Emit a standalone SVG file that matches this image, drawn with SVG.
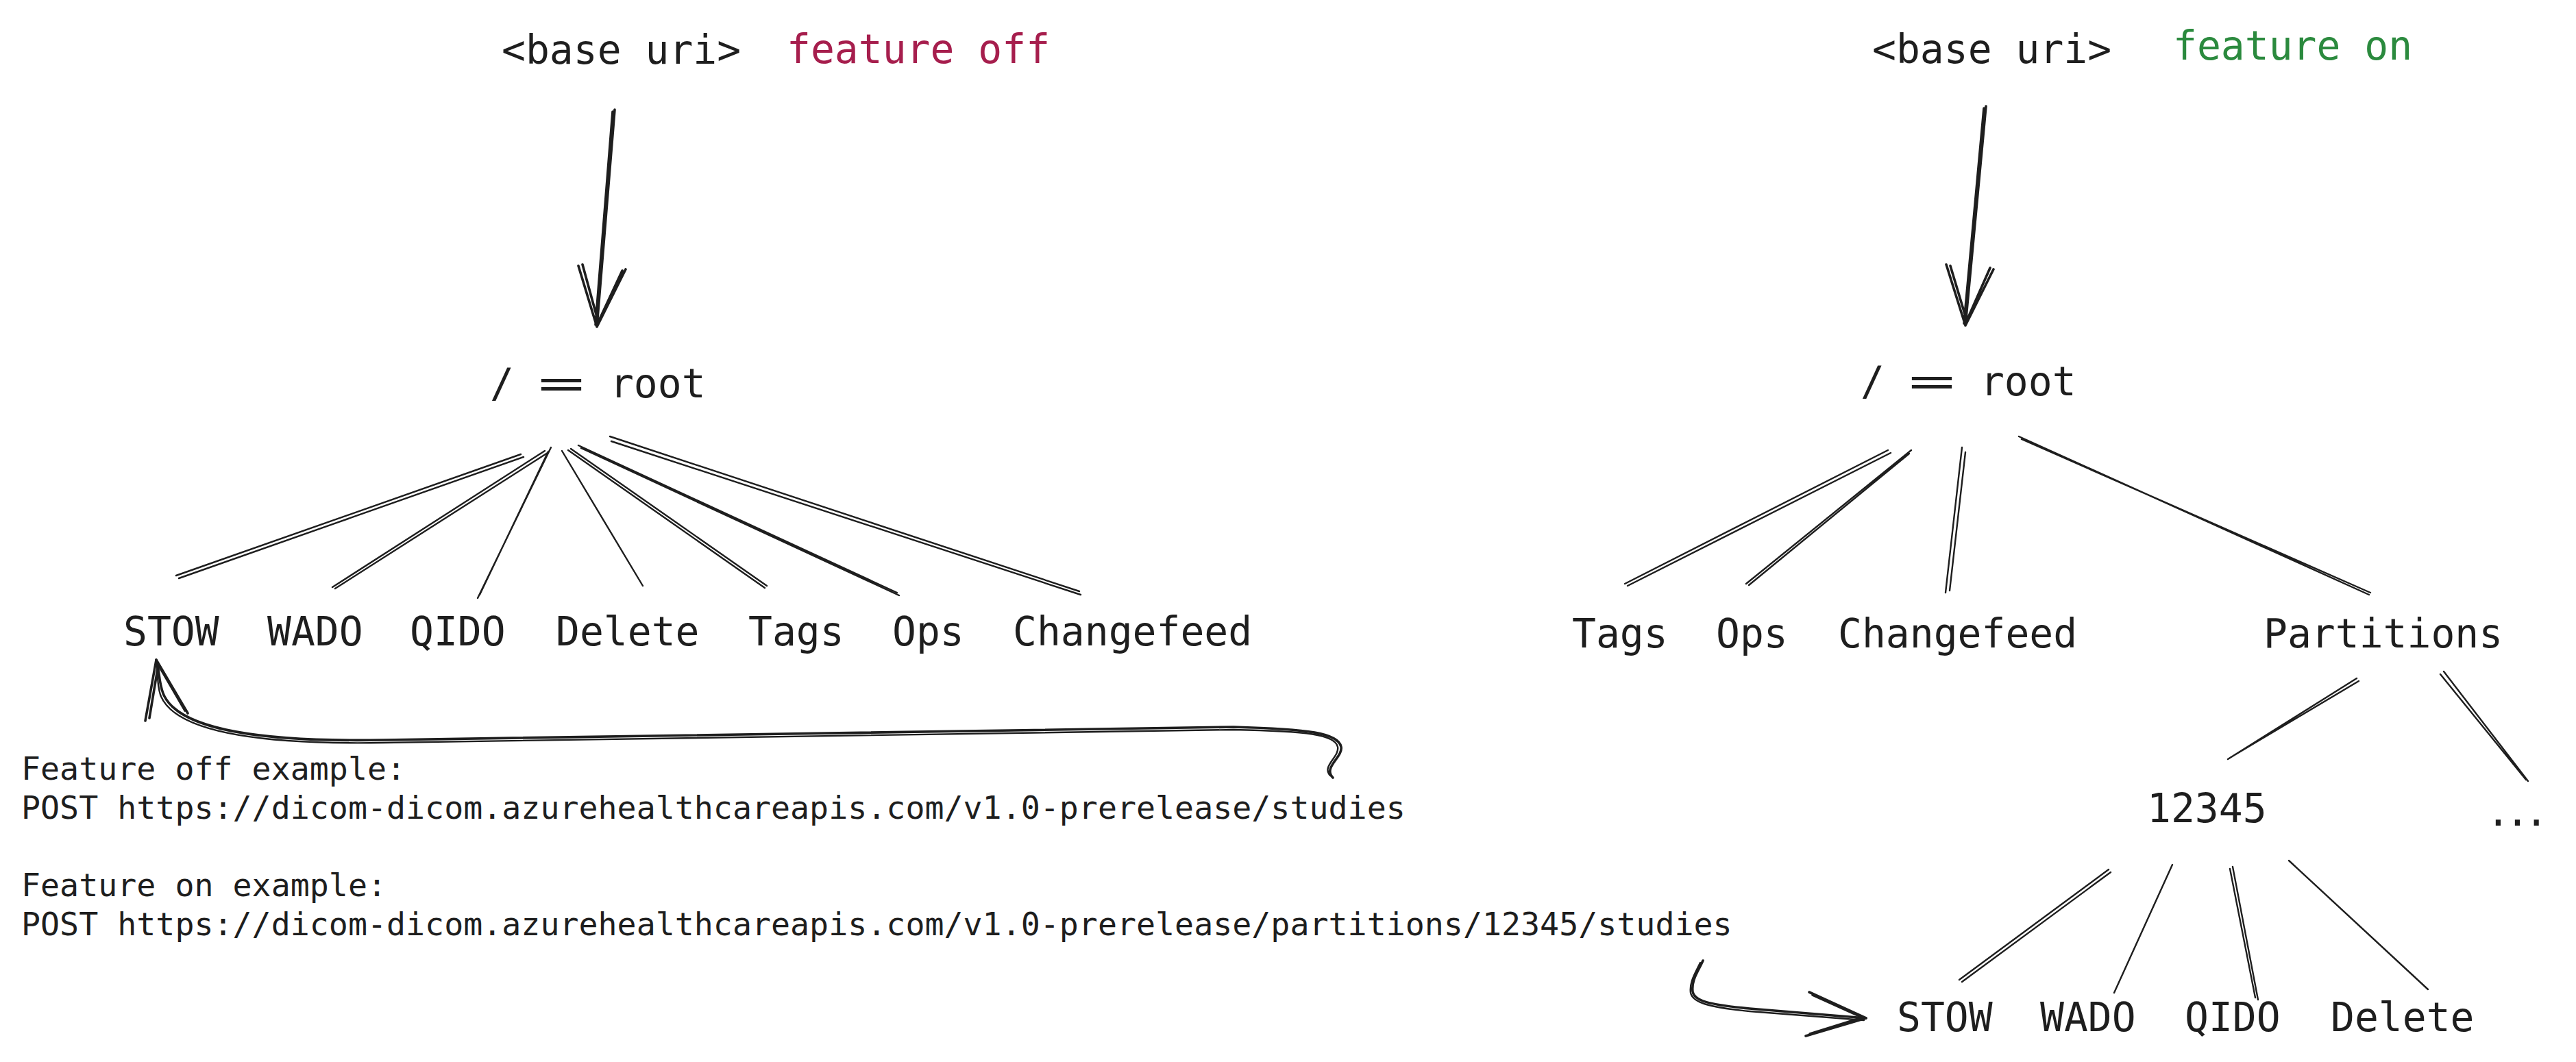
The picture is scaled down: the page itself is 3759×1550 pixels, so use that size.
<svg xmlns="http://www.w3.org/2000/svg" width="3759" height="1550" viewBox="0 0 3759 1550">
<style>
  .t { font-family: "DejaVu Sans Mono", "Liberation Mono", monospace; font-size: 58px; fill: #1e1e1e; }
  .s { font-family: "DejaVu Sans Mono", "Liberation Mono", monospace; font-size: 46.6px; fill: #1e1e1e; }
  .off { fill: #a61e4d; }
  .on { fill: #2b8a3e; }
  .ln { fill: none; stroke: #1e1e1e; stroke-width: 2.4; stroke-linecap: round; stroke-linejoin: round; }
  .ar { fill: none; stroke: #1e1e1e; stroke-width: 3.6; stroke-linecap: round; stroke-linejoin: round; }
</style>
<rect width="3759" height="1550" fill="#ffffff"/>

<g id="connectors">
  <!-- top arrows -->
  <path class="ar" d="M897,160 L871,477 M894,163 L869,474 M844,388 L871,477 L913,393 M850,386 L873,470 L908,395"/>
  <path class="ar" d="M2898,155 L2868,475 M2895,158 L2866,472 M2840,386 L2868,475 L2909,393 M2846,388 L2870,468 L2904,391"/>
  <!-- left tree -->
  <path class="ln" d="M760,663 L257,840 M764,667 L261,844"/>
  <path class="ln" d="M795,658 L485,857 M799,661 L489,859"/>
  <path class="ln" d="M804,653 L697,873 M800,659 L700,868"/>
  <path class="ln" d="M820,658 L938,855"/>
  <path class="ln" d="M829,657 L1116,858 M833,655 L1119,855"/>
  <path class="ln" d="M844,650 L1309,865 M848,654 L1312,869"/>
  <path class="ln" d="M890,637 L1575,863 M892,644 L1577,868"/>
  <!-- right tree -->
  <path class="ln" d="M2755,657 L2371,852 M2759,661 L2375,855"/>
  <path class="ln" d="M2789,657 L2548,852 M2786,662 L2552,854"/>
  <path class="ln" d="M2863,653 L2839,865 M2868,660 L2845,862"/>
  <path class="ln" d="M2946,637 L3457,868 M2950,641 L3459,865"/>
  <path class="ln" d="M3439,990 L3251,1108 M3442,994 L3254,1106"/>
  <path class="ln" d="M3566,980 L3689,1140 M3561,984 L3686,1138"/>
  <path class="ln" d="M3077,1269 L2859,1430 M3080,1273 L2863,1433"/>
  <path class="ln" d="M3170,1262 L3085,1449"/>
  <path class="ln" d="M3258,1265 L3295,1459 M3254,1268 L3291,1456"/>
  <path class="ln" d="M3340,1256 L3543,1444"/>
  <!-- curved arrow to STOW -->
  <path class="ar" d="M1945,1135 C1930,1120 1960,1105 1957,1090 C1953,1070 1910,1064 1800,1061 L560,1080 C340,1084 255,1055 238,1012 C231,993 233,978 228,963"/>
  <path class="ln" d="M1941,1132 C1928,1118 1955,1105 1952,1090 C1948,1072 1908,1067 1800,1065 L560,1084 C336,1088 250,1058 234,1014 C228,995 231,978 228,963"/>
  <path class="ar" d="M212,1052 L228,963 L274,1041 M218,1048 L231,970 L270,1037"/>
  <!-- curved arrow to bottom STOW -->
  <path class="ar" d="M2485,1402 C2478,1418 2468,1430 2470,1447 C2472,1460 2490,1466 2553,1472 L2723,1486"/>
  <path class="ln" d="M2481,1405 C2474,1420 2465,1433 2467,1449 C2470,1463 2492,1470 2553,1476 L2720,1489"/>
  <path class="ar" d="M2640,1448 L2723,1486 L2635,1512 M2645,1452 L2718,1485 L2641,1509"/>
</g>

<g id="base-uri-off"><text class="t" x="732" y="93">&lt;base uri&gt;</text></g>
<g id="feature-off"><text class="t off" x="1148" y="92">feature off</text></g>
<g id="base-uri-on"><text class="t" x="2732" y="92">&lt;base uri&gt;</text></g>
<g id="feature-on"><text class="t on" x="3171" y="87">feature on</text></g>

<g id="root-off"><text class="t" y="580"><tspan x="715">/ </tspan><tspan x="785" textLength="68" lengthAdjust="spacingAndGlyphs">=</tspan><tspan x="855"> root</tspan></text></g>
<g id="root-on"><text class="t" y="577"><tspan x="2715">/ </tspan><tspan x="2785" textLength="68" lengthAdjust="spacingAndGlyphs">=</tspan><tspan x="2855"> root</tspan></text></g>

<g id="off-stow"><text class="t" x="180" y="942">STOW</text></g>
<g id="off-wado"><text class="t" x="390" y="942">WADO</text></g>
<g id="off-qido"><text class="t" x="598" y="942">QIDO</text></g>
<g id="off-delete"><text class="t" x="811" y="942">Delete</text></g>
<g id="off-tags"><text class="t" x="1092" y="942">Tags</text></g>
<g id="off-ops"><text class="t" x="1302" y="942">Ops</text></g>
<g id="off-changefeed"><text class="t" x="1478" y="942">Changefeed</text></g>

<g id="on-tags"><text class="t" x="2294" y="945">Tags</text></g>
<g id="on-ops"><text class="t" x="2504" y="945">Ops</text></g>
<g id="on-changefeed"><text class="t" x="2682" y="945">Changefeed</text></g>
<g id="on-partitions"><text class="t" x="3303" y="945">Partitions</text></g>
<g id="partition-12345"><text class="t" x="3133" y="1200">12345</text></g>
<g id="partition-more"><text class="t" x="3628" y="1205" letter-spacing="-7">...</text></g>
<g id="on-stow"><text class="t" x="2768" y="1505">STOW</text></g>
<g id="on-wado"><text class="t" x="2977" y="1505">WADO</text></g>
<g id="on-qido"><text class="t" x="3188" y="1505">QIDO</text></g>
<g id="on-delete"><text class="t" x="3401" y="1505">Delete</text></g>

<g id="examples">
  <text class="s" x="31" y="1138">Feature off example:</text>
  <text class="s" x="31" y="1195">POST https://dicom-dicom.azurehealthcareapis.com/v1.0-prerelease/studies</text>
  <text class="s" x="31" y="1308">Feature on example:</text>
  <text class="s" x="31" y="1365">POST https://dicom-dicom.azurehealthcareapis.com/v1.0-prerelease/partitions/12345/studies</text>
</g>
</svg>
